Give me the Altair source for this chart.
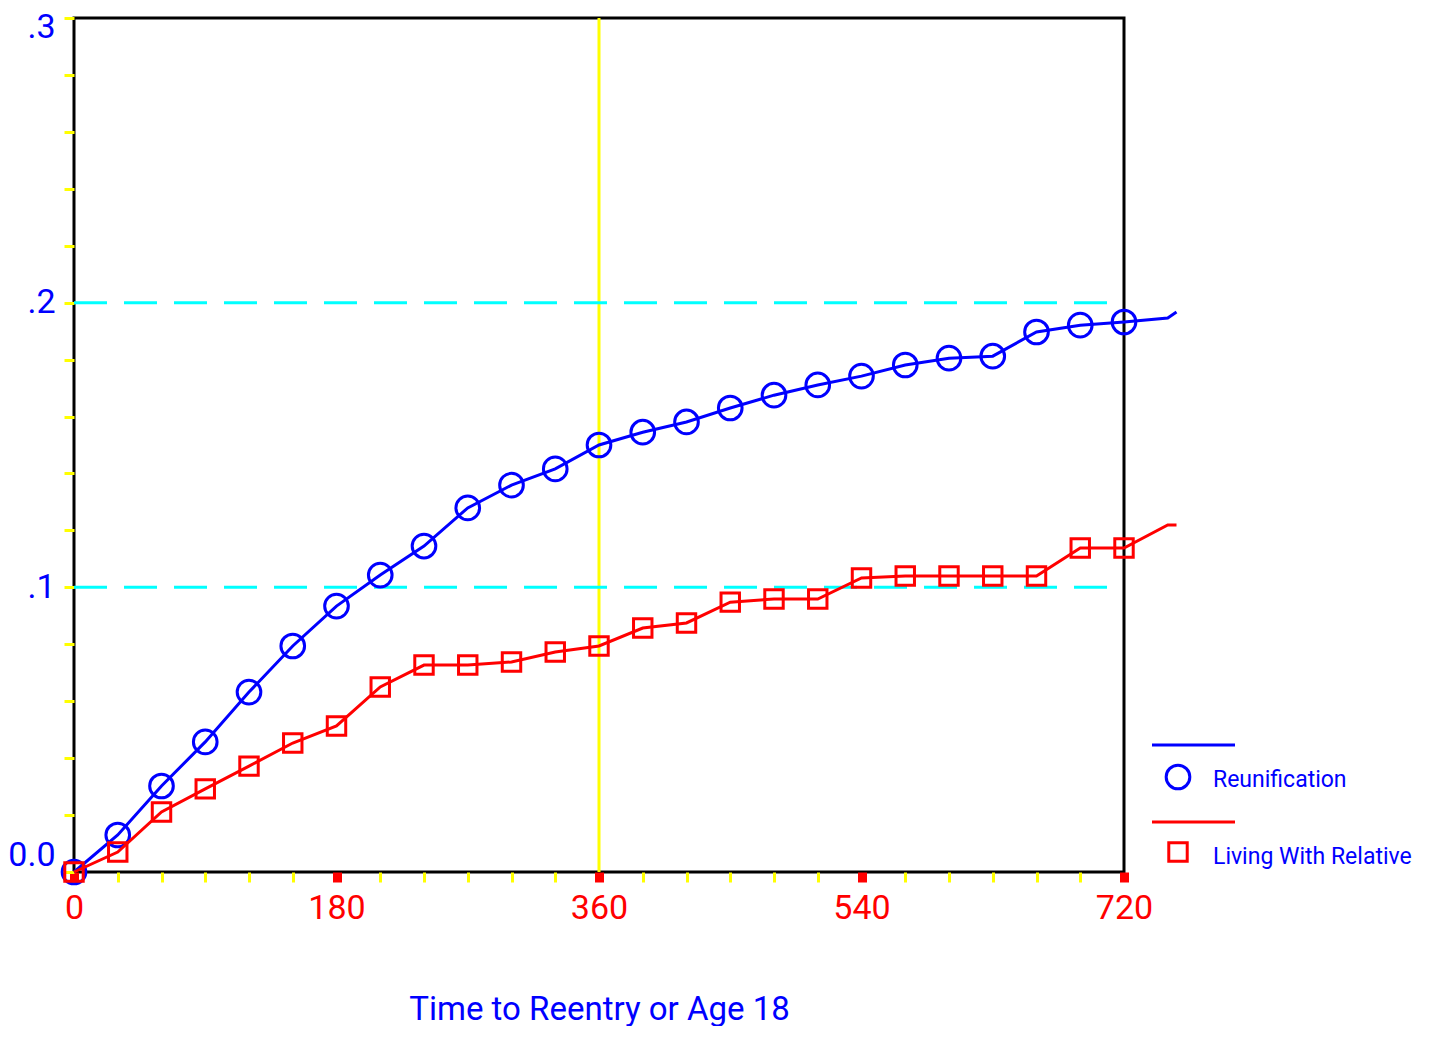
import altair as alt
import pandas as pd

days = [0, 30, 60, 90, 120, 150, 180, 210, 240, 270, 300, 330, 360, 390, 420,
        450, 480, 510, 540, 570, 600, 630, 660, 690, 720, 750, 756]
reunification = [0.0, 0.0130, 0.0302, 0.0457, 0.0632, 0.0794, 0.0934, 0.1043,
                 0.1145, 0.1279, 0.1359, 0.1416, 0.1500, 0.1545, 0.1581, 0.1630,
                 0.1675, 0.1711, 0.1742, 0.1781, 0.1805, 0.1812, 0.1897, 0.1921,
                 0.1932, 0.1946, 0.1967]
relative = [0.0, 0.0070, 0.0211, 0.0292, 0.0372, 0.0453, 0.0513, 0.0650,
            0.0727, 0.0727, 0.0738, 0.0773, 0.0794, 0.0857, 0.0875, 0.0948,
            0.0959, 0.0959, 0.1033, 0.1040, 0.1040, 0.1040, 0.1040, 0.1138,
            0.1138, 0.1219, 0.1219]
ref_levels = [0.1, 0.2]
vline_day = [360]
x_ticks = list(range(0, 721, 30))
y_ticks = [round(i * 0.01, 2) for i in range(0, 31)]

FONT = "Roboto"
BLUE = "#0000ff"
RED = "#ff0000"
YELLOW = "#ffff00"
CYAN = "#00ffff"

df = pd.DataFrame({"day": days, "reun": reunification, "rel": relative})
refs = pd.DataFrame({"lvl": ref_levels})
vl = pd.DataFrame({"d": vline_day})

W, H = 1050, 854

xscale = alt.Scale(domain=[0, 720], nice=False, zero=True)
yscale = alt.Scale(domain=[0, 0.3], nice=False, zero=True)

xaxis = alt.Axis(
    values=x_ticks,
    labelExpr="datum.value % 180 == 0 ? datum.label : ''",
    format="d",
    labelColor=RED, labelFont=FONT, labelFontSize=34, labelPadding=9,
    labelOverlap=False, labelFlush=False,
    tickColor={"condition": {"test": "datum.value % 180 == 0", "value": RED}, "value": YELLOW},
    tickWidth={"condition": {"test": "datum.value % 180 == 0", "value": 9}, "value": 3},
    tickSize=10,
    domain=False, grid=False,
    title="Time to Reentry or Age 18",
    titleColor=BLUE, titleFont=FONT, titleFontSize=33, titleFontWeight="normal",
    titlePadding=68,
)
yaxis = alt.Axis(
    values=y_ticks,
    labelExpr="datum.value == 0 ? '0.0' : (abs(datum.value * 10 - round(datum.value * 10)) < 0.001 ? replace(format(datum.value, '.1f'), '0.', '.') : '')",
    labelColor=BLUE, labelFont=FONT, labelFontSize=34, labelPadding=9,
    labelOverlap=False, labelFlush=False,
    labelBaseline={"condition": {"test": "datum.value == 0", "value": "bottom"}, "value": "middle"},
    labelOffset={"condition": {"test": "datum.value >= 0.295", "value": 9}, "value": 0},
    tickColor=YELLOW, tickWidth=3, tickSize=10,
    domain=False, grid=False, title=None,
)

base = alt.Chart(df)

vline = alt.Chart(vl).mark_rule(color=YELLOW, strokeWidth=3).encode(
    x=alt.X("d:Q", scale=xscale, axis=xaxis)
)

dashed = alt.Chart(refs).mark_rule(color=CYAN, strokeWidth=3, strokeDash=[33, 17]).encode(
    x=alt.datum(0, scale=xscale),
    x2=alt.datum(720),
    y=alt.Y("lvl:Q", scale=yscale, axis=yaxis),
)

blue_line = base.mark_line(color=BLUE, strokeWidth=3).encode(
    x=alt.X("day:Q", scale=xscale, axis=xaxis),
    y=alt.Y("reun:Q", scale=yscale, axis=yaxis),
)
blue_pts = base.transform_filter("datum.day <= 720").mark_point(
    shape="circle", filled=False, color=BLUE, size=560, strokeWidth=3, opacity=1
).encode(x=alt.X("day:Q", scale=xscale), y=alt.Y("reun:Q", scale=yscale))

red_line = base.mark_line(color=RED, strokeWidth=3).encode(
    x=alt.X("day:Q", scale=xscale),
    y=alt.Y("rel:Q", scale=yscale),
)
red_pts = base.transform_filter("datum.day <= 720").mark_point(
    shape="square", filled=False, color=RED, size=340, strokeWidth=3, opacity=1
).encode(x=alt.X("day:Q", scale=xscale), y=alt.Y("rel:Q", scale=yscale))

# Legend (drawn manually)
leg = pd.DataFrame({"k": [0]})
lg = alt.Chart(leg)
leg_layers = [
    lg.mark_rule(color=BLUE, strokeWidth=3).encode(
        x=alt.value(1078), x2=alt.value(1161), y=alt.value(727)),
    lg.mark_point(shape="circle", filled=False, color=BLUE, size=560, strokeWidth=3, opacity=1).encode(
        x=alt.value(1104), y=alt.value(759)),
    lg.mark_text(text="Reunification", color=BLUE, font=FONT, fontSize=23,
                 align="left", baseline="middle").encode(x=alt.value(1139), y=alt.value(762)),
    lg.mark_rule(color=RED, strokeWidth=3).encode(
        x=alt.value(1078), x2=alt.value(1161), y=alt.value(804)),
    lg.mark_point(shape="square", filled=False, color=RED, size=340, strokeWidth=3, opacity=1).encode(
        x=alt.value(1104), y=alt.value(834)),
    lg.mark_text(text="Living With Relative", color=BLUE, font=FONT, fontSize=23,
                 align="left", baseline="middle").encode(x=alt.value(1139), y=alt.value(839)),
]

chart = alt.layer(
    vline, dashed, blue_line, blue_pts, red_line, red_pts, *leg_layers
).properties(
    width=W, height=H,
    background="white",
    autosize=alt.AutoSizeParams(type="none"),
    padding={"left": 66, "top": 10, "right": 296, "bottom": 154},
).configure_view(
    stroke="black", strokeWidth=3
)

chart.save("out.html", embed_options={"renderer": "svg", "actions": False})
